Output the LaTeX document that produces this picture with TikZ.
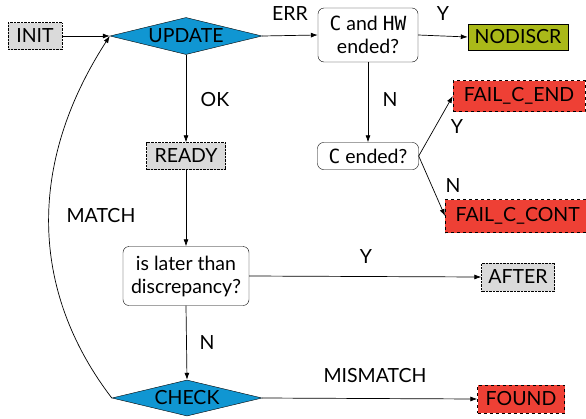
\documentclass[tikz,border=0pt]{standalone}
\usepackage{fontspec}
\setmainfont{Lato}
\setmonofont{DejaVu Sans Mono}
\usetikzlibrary{shapes.geometric,arrows.meta}
\definecolor{boxgray}{RGB}{218,218,218}
\definecolor{diablue}{RGB}{16,150,210}
\definecolor{failred}{RGB}{238,64,53}
\definecolor{okolive}{RGB}{170,185,25}
\begin{document}
\begin{tikzpicture}[x=1pt,y=-1pt,
  every node/.style={font=\fontsize{19.5}{23}\selectfont, inner sep=0pt},
  graybox/.style={rectangle, draw, densely dotted, fill=boxgray},
  redbox/.style={rectangle, draw, dashed, fill=failred},
  olivebox/.style={rectangle, draw, fill=okolive},
  decision/.style={diamond, draw, fill=diablue},
  question/.style={rectangle, draw, rounded corners=6pt, align=center, fill=white},
  edge/.style={draw, line width=0.7pt, -{Latex[length=7pt,width=5pt]}},
  lbl/.style={fill=none}]
\useasboundingbox (0,0) rectangle (586,418);
\node[graybox, minimum width=54pt, minimum height=27pt] (init) at (35,36) {INIT};
\node[decision, minimum width=152pt, minimum height=37pt] (update) at (186,36) {\makebox[0pt]{UPDATE}};
\node[question, minimum width=100pt, minimum height=54pt] (cand) at (368,35) {\texttt{C} and \texttt{HW}\\ended?};
\node[olivebox, minimum width=100pt, minimum height=26pt] (nodiscr) at (518,37) {NODISCR};
\node[question, minimum width=101pt, minimum height=27pt] (cended) at (368,156) {\texttt{C} ended?};
\node[redbox, minimum width=132pt, minimum height=31pt] (failend) at (519,96) {FAIL\_C\_END};
\node[redbox, minimum width=144pt, minimum height=33pt, anchor=west] (failcont) at (445,216) {\hspace{1pt}FAIL\_C\_CONT\hfill};
\node[graybox, minimum width=79pt, minimum height=27pt] (ready) at (186,156) {READY};
\node[question, minimum width=126pt, minimum height=59pt] (later) at (186,276) {is later than\\discrepancy?};
\node[graybox, minimum width=73pt, minimum height=28pt] (after) at (518,277) {AFTER};
\node[decision, minimum width=150pt, minimum height=36pt] (check) at (187,398) {\makebox[0pt]{CHECK}};
\node[redbox, minimum width=87pt, minimum height=28pt] (found) at (521,399) {FOUND};

\node[lbl] (lerr) at (290,14) {ERR};
\node[lbl] (ly1) at (443,14) {Y};
\node[lbl] (ln1) at (390,100) {N};
\node[lbl] (lok) at (215,100) {OK};
\node[lbl] (ly2) at (457,127) {Y};
\node[lbl] (ln2) at (453,186) {N};
\node[lbl] (lmatch) at (101,216) {MATCH};
\node[lbl] (ly3) at (366,257) {Y};
\node[lbl] (ln3) at (207,343) {N};
\node[lbl] (lmis) at (375,376) {MISMATCH};

\path[edge] (init) -- (update.west);
\path[edge] (update.east) -- (cand.west);
\path[edge] (cand.east) -- (nodiscr.west);
\path[edge] (cand.south) -- (cended.north);
\path[edge] (cended.east) -- (failend.west);
\path[edge] (cended.east) -- (failcont.west);
\path[edge] (update.south) -- (ready.north);
\path[edge] (ready.south) -- (later.north);
\path[edge] (later.east) -- (after.west);
\path[edge] (later.south) -- (check.north);
\path[edge] (check.east) -- (found.west);
\path[edge] (check.west) .. controls (30,291) and (27,164) .. (update.west);
\end{tikzpicture}
\end{document}
